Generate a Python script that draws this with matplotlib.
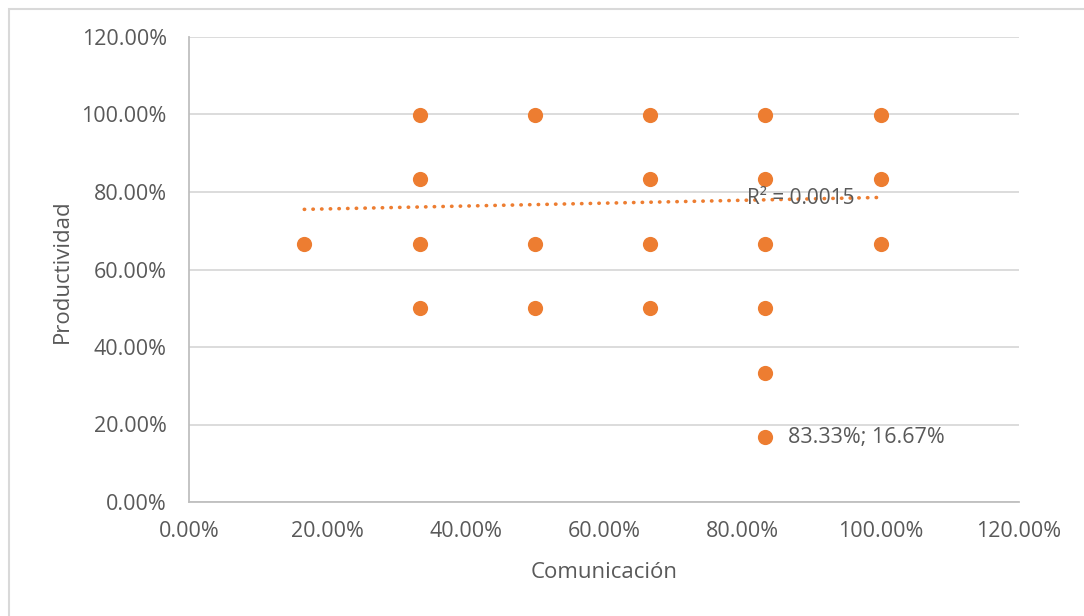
import matplotlib
matplotlib.use('Agg')
import matplotlib.pyplot as plt
from matplotlib.ticker import FuncFormatter, MultipleLocator
from matplotlib.patches import Rectangle

# Comunicación vs Productividad (fractions, 1.0 = 100%)
comunicacion = [1/6, 2/6, 2/6, 2/6, 2/6, 3/6, 3/6, 3/6,
                4/6, 4/6, 4/6, 4/6,
                5/6, 5/6, 5/6, 5/6, 5/6, 5/6,
                1.0, 1.0, 1.0]
productividad = [4/6, 6/6, 5/6, 4/6, 3/6, 6/6, 4/6, 3/6,
                 6/6, 5/6, 4/6, 3/6,
                 6/6, 5/6, 4/6, 3/6, 2/6, 1/6,
                 6/6, 5/6, 4/6]

# linear trendline as shown on the chart
trend_slope = 0.037
trend_intercept = 0.749
r_squared = 0.0015

orange = '#ED7D31'
text_gray = '#595959'
grid_gray = '#D9D9D9'
font = 'Open Sans'

fig = plt.figure(figsize=(10.84, 6.16), dpi=100)
ax = fig.add_axes([189/1084, 1 - 502/616, (1019 - 189)/1084, (502 - 37)/616])

ax.scatter(comunicacion, productividad, s=120, color=orange, zorder=3, linewidths=0)

x0, x1 = min(comunicacion), max(comunicacion)
ax.plot([x0, x1], [trend_intercept + trend_slope * x0, trend_intercept + trend_slope * x1],
        color=orange, linestyle=(0, (0.1, 2.3)), linewidth=2.6,
        dash_capstyle='round', zorder=2)

ax.set_xlim(0, 1.2)
ax.set_ylim(0, 1.2)
ax.xaxis.set_major_locator(MultipleLocator(0.2))
ax.yaxis.set_major_locator(MultipleLocator(0.2))
pct = FuncFormatter(lambda v, _: f'{v * 100:.2f}%')
ax.xaxis.set_major_formatter(pct)
ax.yaxis.set_major_formatter(pct)

ax.grid(axis='y', color=grid_gray, linewidth=1.3, zorder=0)
ax.set_axisbelow(True)
for side in ['top', 'right']:
    ax.spines[side].set_visible(False)
for side in ['left', 'bottom']:
    ax.spines[side].set_color('#BFBFBF')
    ax.spines[side].set_linewidth(1.3)
ax.tick_params(length=0, labelsize=15.5, labelcolor=text_gray)
ax.tick_params(axis='x', pad=14)
ax.tick_params(axis='y', pad=16)
for lbl in ax.get_xticklabels() + ax.get_yticklabels():
    lbl.set_fontfamily(font)

# data label on the lowest point
lx, ly = comunicacion[17], productividad[17]
ax.annotate(f'{lx * 100:.2f}%; {ly * 100:.2f}%', (lx, ly), xytext=(16, 0),
            textcoords='offset points', va='center', ha='left',
            fontsize=15.5, color=text_gray, family=font)

ax.text(0.807, trend_intercept + trend_slope * 0.9, f'R² = {r_squared}',
        va='center', ha='left', fontsize=15, color=text_gray, family=font, zorder=4)

fig.text(604/1084, 1 - 573/616, 'Comunicación', ha='center', va='center',
         fontsize=16, color=text_gray, family=font)
fig.text(62/1084, 1 - 271/616, 'Productividad', ha='center', va='center',
         rotation=90, fontsize=16, color=text_gray, family=font)

# chart area border
fig.patches.append(Rectangle((8.5/1084, -0.1), 1.2, 1 - 8.5/616 + 0.1,
                             transform=fig.transFigure, fill=False,
                             edgecolor='#D9D9D9', linewidth=1.5))

fig.savefig('out.png', dpi=100)
